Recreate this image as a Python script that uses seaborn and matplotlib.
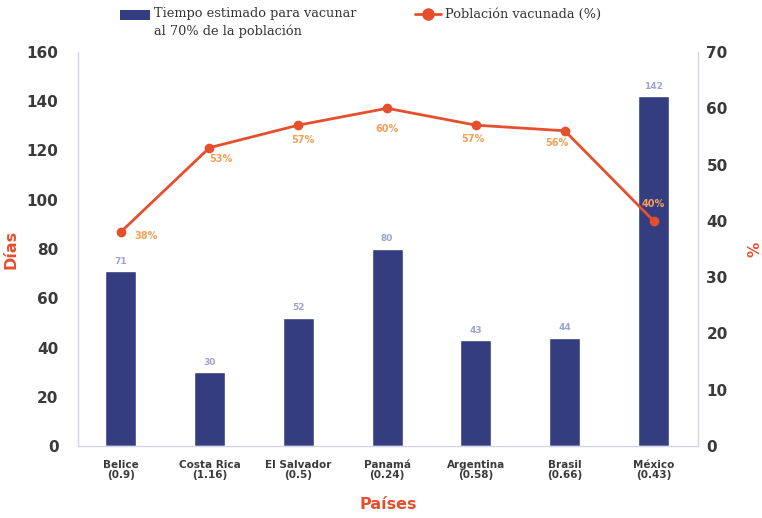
import matplotlib
matplotlib.use("Agg")
import matplotlib.pyplot as plt
import seaborn as sns
import pandas as pd
import numpy as np
from matplotlib.patches import Rectangle
from matplotlib.lines import Line2D

# Data
paises = ["Belice", "Costa Rica", "El Salvador", "Panamá", "Argentina", "Brasil", "México"]
indices = ["0.9", "1.16", "0.5", "0.24", "0.58", "0.66", "0.43"]
dias = [71, 30, 52, 80, 43, 44, 142]
vacunada = [38, 53, 57, 60, 57, 56, 40]
serie_barras = "Tiempo estimado para vacunar\nal 70% de la población"
serie_linea = "Población vacunada (%)"

BAR = "#343d7f"
LINE = "#e64f2e"
PCT_TXT = "#f2a05a"
BAR_TXT = "#9ea3d2"
SPINE = "#d3d6ea"
TICK = "#3a3a3a"

sns.set_theme(style="white")
plt.rcParams["font.family"] = ["DejaVu Sans"]

df = pd.DataFrame({"pais": paises, "dias": dias, "vac": vacunada})
df["label"] = [f"{p}\n({i})" for p, i in zip(paises, indices)]

W, H = 762, 518
fig = plt.figure(figsize=(W / 100, H / 100), dpi=100)
ax = fig.add_axes([78 / W, (H - 446) / H, 620 / W, (446 - 52) / H])

sns.barplot(data=df, x="label", y="dias", color=BAR, width=0.35,
            saturation=1, ax=ax)
ax.set_xlim(-0.48, 6.5)
ax.set_ylim(0, 160)
ax.set_yticks(np.arange(0, 161, 20))

for i, v in enumerate(dias):
    ax.annotate(str(v), (i, v), xytext=(0, 4), textcoords="offset points",
                ha="center", va="bottom", fontsize=6.5, fontweight="bold",
                color=BAR_TXT)

ax2 = ax.twinx()
sns.lineplot(x=np.arange(len(paises)), y=vacunada, ax=ax2, color=LINE,
             linewidth=2, marker="o", markersize=7, markeredgewidth=0)
ax2.set_ylim(0, 70)
ax2.set_yticks(np.arange(0, 71, 10))

# Placement of the percentage labels around each point (points)
offsets = [(18, -3), (8, -8), (3, -11), (0, -15), (-2, -10), (-6, -9), (0, 12)]
for i, (v, off) in enumerate(zip(vacunada, offsets)):
    ax2.annotate(f"{v}%", (i, v), xytext=off, textcoords="offset points",
                 ha="center", va="center", fontsize=7, fontweight="bold",
                 color=PCT_TXT)

for a in (ax, ax2):
    a.spines["top"].set_visible(False)
    for side in ("left", "right", "bottom"):
        a.spines[side].set_color(SPINE)
        a.spines[side].set_linewidth(1)
    a.tick_params(length=0)
ax.spines["right"].set_visible(False)
ax2.spines["left"].set_visible(False)
ax2.spines["bottom"].set_visible(False)

ax.tick_params(axis="y", labelsize=11, labelcolor=TICK, pad=14)
ax2.tick_params(axis="y", labelsize=11, labelcolor=TICK, pad=6)
for lbl in ax.get_yticklabels() + ax2.get_yticklabels():
    lbl.set_fontweight("bold")
ax.tick_params(axis="x", labelsize=7.5, labelcolor=TICK, pad=10)
for lbl in ax.get_xticklabels():
    lbl.set_fontweight("bold")
    lbl.set_linespacing(1.0)

ax.set_xlabel("Países", color=LINE, fontsize=11.5, fontweight="bold", labelpad=12)
ax.set_ylabel("Días", color=LINE, fontsize=11.5, fontweight="bold", labelpad=6)
ax2.set_ylabel("%", color=LINE, fontsize=11, fontweight="bold", labelpad=14,
               rotation=90)

# Legend drawn in figure pixels across the top
def fx(px):
    return px / W

def fy(py):
    return 1 - py / H

fig.patches.append(Rectangle((fx(120), fy(20)), 30 / W, 10 / H,
                             transform=fig.transFigure, facecolor=BAR,
                             edgecolor="none"))
fig.text(fx(154), fy(7), serie_barras, ha="left", va="top",
         family="DejaVu Serif", fontsize=9.3, color="#333333", linespacing=1.45)
fig.lines.append(Line2D([fx(415), fx(441)], [fy(14), fy(14)],
                        transform=fig.transFigure, color=LINE, linewidth=2))
fig.lines.append(Line2D([fx(428)], [fy(14)], transform=fig.transFigure,
                        color=LINE, marker="o", markersize=9,
                        markeredgewidth=0, linestyle="none"))
fig.text(fx(445), fy(14), serie_linea, ha="left", va="center",
         family="DejaVu Serif", fontsize=9.3, color="#333333")

fig.savefig("out.png", dpi=100)
